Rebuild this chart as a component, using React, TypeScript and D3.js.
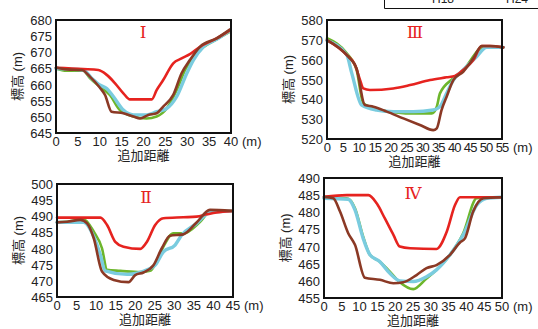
import React from "react";
import * as d3 from "d3";

type Pt = [number, number];

// Panel I (追加距離 m, 標高 m)
const p1Green: Pt[] = [[0,665],[2.4,664.3],[6.2,664.3],[7.8,661.9],[10,659.4],[12.3,656.8],[14.6,652.1],[17.7,650.1],[20.7,649.5],[23,650.1],[25.3,652.6],[27.6,658.3],[29.5,664.5],[32.9,670.7],[36.7,674],[39.8,676.4]];
const p1Cyan: Pt[] = [[0,665],[6.2,664.5],[8.2,661.9],[10,659.9],[11.6,658.8],[13.1,656.3],[15.4,652.1],[17.7,650.6],[20.7,650.6],[23,651.6],[25.3,652.6],[27.6,656.3],[29.9,663.5],[31.4,667.6],[33.7,671.7],[36.7,674],[39.8,676.7]];
const p1Brown: Pt[] = [[0,665.3],[2.4,664.7],[5.9,664.5],[7.8,662.4],[10,659.1],[11.2,656.8],[12.7,651.6],[15.4,651.1],[17.7,650.1],[19.2,649.5],[21.1,650.6],[23,651.1],[24.5,653.2],[26.8,656.8],[28.7,663.5],[30.6,667.6],[32.9,671.7],[36.7,674.3],[39.8,677.1]];
const p1Red: Pt[] = [[0,665.2],[6.2,664.8],[9.7,664.5],[11.6,663],[13.5,660.4],[15.4,657.3],[16.9,655.4],[21.9,655.4],[23,658.3],[24.5,661.4],[26.8,666.6],[28.7,668.1],[30.6,669.4],[32.9,671.7],[36.7,674.3],[39.8,676.9]];

// Panel III
const p3Green: Pt[] = [[0,570.8],[6.2,563.2],[9.3,554.8],[11.4,538],[14.6,535.5],[19.8,533.8],[26.1,532.9],[32.9,532.9],[34.5,536.3],[35.5,543],[39.7,550.6],[42.8,554.8],[49.1,566.2],[55.4,566.2]];
const p3Cyan: Pt[] = [[0,569.6],[6.2,562.4],[7.8,553.1],[10.9,537.1],[15.6,534.6],[20.8,533.8],[27.1,533.8],[33.4,534.6],[35.5,536.3],[37.6,543],[39.7,549.7],[42.8,554.8],[47,561.5],[50.2,566.2],[55.4,566.2]];
const p3Brown: Pt[] = [[0,569.9],[6.7,561.5],[9.3,555.6],[11.9,537.1],[14.6,536.3],[18.8,533.8],[24,530.4],[29.2,527.1],[33.4,524.5],[34.5,525.4],[36,534.6],[37.6,541.3],[39.7,549.7],[42.8,553.9],[46,560.7],[48.6,566.9],[51.2,566.9],[55.4,566.2]];
const p3Red: Pt[] = [[0,569.9],[6.2,562.4],[8.8,557.3],[10.4,549.7],[11.4,545.5],[13.5,544.7],[20.8,545.5],[26.1,547.2],[32.4,549.7],[37.6,551.1],[40.2,551.8],[42.8,554.8],[46,559.8],[48.6,566.9],[51.2,566.9],[55.4,566.2]];

// Panel II
const p2Green: Pt[] = [[0,488.1],[2.6,488.3],[6.8,489.1],[9.4,485.2],[11.5,480.1],[12.8,473.4],[16.2,473.1],[21.3,472.7],[23.8,473.1],[25.5,476],[27.2,480.6],[29.8,484.7],[32.3,484.7],[36.6,488.3],[39.1,491.4],[44.6,491.6]];
const p2Cyan: Pt[] = [[0,488.1],[6.8,488.1],[9.4,483.7],[11.1,478],[12.3,473.1],[17.9,472],[23,473.4],[25.1,474.9],[27.2,479],[30.2,481.1],[31.9,484.2],[35.7,487.8],[39.1,491.2],[44.6,491.6]];
const p2Brown: Pt[] = [[0,488.1],[2.6,488.3],[6,488.9],[7.7,487.8],[9.4,483.2],[11.5,472.9],[14.5,470.3],[18.3,469.6],[20,471.8],[22.1,472.6],[24.7,474.9],[26.8,480.1],[28.9,484],[32.3,484.4],[35.7,488.1],[39.1,492],[44.6,491.7]];
const p2Red: Pt[] = [[0,489.6],[11.1,489.6],[12.8,487.3],[14.9,482.1],[17,480.6],[21.3,479.9],[23,482.1],[25.1,487.3],[27.2,489.4],[32.3,489.7],[35.7,489.9],[38.3,490.6],[40.8,491.2],[44.6,491.6]];

// Panel IV
const p4Green: Pt[] = [[0,484.1],[6.4,484.1],[8.7,481.2],[11,472.9],[12.9,467.6],[15.7,465.6],[18.5,462.7],[21.3,459.6],[25.1,457.6],[28.8,460.7],[31.6,463.2],[35.4,467.6],[39.1,473.9],[42.9,484.1],[49.8,484.4]];
const p4Cyan: Pt[] = [[0,484.1],[6.8,483.8],[8.7,480.7],[11,472.4],[12.9,467.6],[15.7,465.6],[18.5,462.2],[21.3,460],[25.1,459.8],[28.8,461.2],[31.6,463.2],[35.4,467.6],[39.1,473.4],[42.9,482.1],[45.7,484.1],[49.8,484.4]];
const p4Brown: Pt[] = [[0,484.5],[2.6,484.1],[4.5,480.2],[6.8,473.9],[8.7,470.5],[11.5,460.9],[15.7,460.3],[19.5,459.3],[22.3,459.6],[26,461.7],[28.8,463.7],[31.6,464.6],[35.4,467.6],[38.2,471.2],[39.6,472.4],[41.9,480.2],[44.8,484.1],[49.8,484.4]];
const p4Red: Pt[] = [[0,484.5],[6.4,485],[12.5,485],[14.8,482.6],[17.1,478.2],[19.5,473.4],[21.3,470],[24.2,469.5],[31.6,469.3],[34.5,474.4],[36.8,482.1],[38.2,484.4],[41,484.4],[49.8,484.4]];

const legendLabels = ["H18", "H24"];
const xTitle = "追加距離";
const yTitle = "標高 (m)";
const unitLabel = "(m)";

const COLORS = { green: "#6db62c", cyan: "#7accdf", brown: "#8b3925", red: "#e6231f" };

interface PanelDef {
  numeral: string;
  xMax: number;
  yMin: number;
  yMax: number;
  box: [number, number, number, number];
  numPos: [number, number];
  series: { color: string; width: number; data: Pt[] }[];
}

const mk = (g: Pt[], c: Pt[], b: Pt[], r: Pt[]) => [
  { color: COLORS.green, width: 2.6, data: g },
  { color: COLORS.cyan, width: 3.4, data: c },
  { color: COLORS.red, width: 2.6, data: r },
  { color: COLORS.brown, width: 2.6, data: b },
];

const panels: PanelDef[] = [
  { numeral: "Ⅰ", xMax: 40, yMin: 645, yMax: 680, box: [56, 231, 20, 133], numPos: [143, 38], series: mk(p1Green, p1Cyan, p1Brown, p1Red) },
  { numeral: "Ⅲ", xMax: 55, yMin: 520, yMax: 580, box: [327, 502, 20, 139], numPos: [415, 38], series: mk(p3Green, p3Cyan, p3Brown, p3Red) },
  { numeral: "Ⅱ", xMax: 45, yMin: 465, yMax: 500, box: [57, 233, 184, 297], numPos: [146, 203], series: mk(p2Green, p2Cyan, p2Brown, p2Red) },
  { numeral: "Ⅳ", xMax: 50, yMin: 455, yMax: 490, box: [324, 502, 178, 298], numPos: [413, 199], series: mk(p4Green, p4Cyan, p4Brown, p4Red) },
];

const FONT = "'Liberation Sans', 'Noto Sans CJK JP', sans-serif";

function Panel({ p }: { p: PanelDef }) {
  const [x0, x1, y0, y1] = p.box;
  const xs = d3.scaleLinear().domain([0, p.xMax]).range([x0, x1]);
  const ys = d3.scaleLinear().domain([p.yMin, p.yMax]).range([y1, y0]);
  const xTicks = d3.range(0, p.xMax + 0.01, 5);
  const yStep = p.yMax - p.yMin > 40 ? 10 : 5;
  const yTicks = d3.range(p.yMin, p.yMax + 0.01, yStep);
  const line = d3.line<Pt>().x((d) => xs(d[0])).y((d) => ys(d[1])).curve(d3.curveMonotoneX);
  return (
    <g>
      {p.series.map((s, i) => (
        <path key={i} d={line(s.data) || ""} fill="none" stroke={s.color} strokeWidth={s.width} strokeLinejoin="round" strokeLinecap="round" />
      ))}
      <rect x={x0} y={y0} width={x1 - x0} height={y1 - y0} fill="none" stroke="#111" strokeWidth={2} />
      {yTicks.map((t) => (
        <text key={t} x={x0 - 4} y={ys(t) + 5} textAnchor="end" fontSize={13} fontFamily={FONT} fill="#222">{t}</text>
      ))}
      {xTicks.map((t) => (
        <text key={t} x={xs(t)} y={y1 + 13} textAnchor="middle" fontSize={13} fontFamily={FONT} fill="#222" letterSpacing={p.xMax > 50 ? -0.9 : 0}>{t}</text>
      ))}
      <text x={x1 + 11} y={y1 + 13} fontSize={13} fontFamily={FONT} fill="#222">{unitLabel}</text>
      <text x={(x0 + x1) / 2} y={y1 + 27} textAnchor="middle" fontSize={13} fontFamily={FONT} fill="#222">{xTitle}</text>
      <text transform={`translate(${x0 - 34},${(y0 + y1) / 2}) rotate(-90)`} textAnchor="middle" fontSize={13} fontFamily={FONT} fill="#222">{yTitle}</text>
      <text x={p.numPos[0]} y={p.numPos[1]} textAnchor="middle" fontSize={17} fontFamily="'DejaVu Serif', 'Liberation Serif', serif" fill={COLORS.red}>{p.numeral}</text>
    </g>
  );
}

export default function App() {
  return (
    <svg width={538} height={329} style={{ position: "absolute", left: 0, top: 0, background: "#fff" }}>
      <rect x={0} y={0} width={538} height={329} fill="#fff" />
      <path d="M384.5,0 V8.5 H538" fill="none" stroke="#111" strokeWidth={1} />
      {legendLabels.map((l, i) => (
        <text key={l} x={443 + i * 74} y={3} textAnchor="middle" fontSize={12} fontFamily={FONT} fill="#222">{l}</text>
      ))}
      {panels.map((p, i) => (
        <Panel key={i} p={p} />
      ))}
    </svg>
  );
}
